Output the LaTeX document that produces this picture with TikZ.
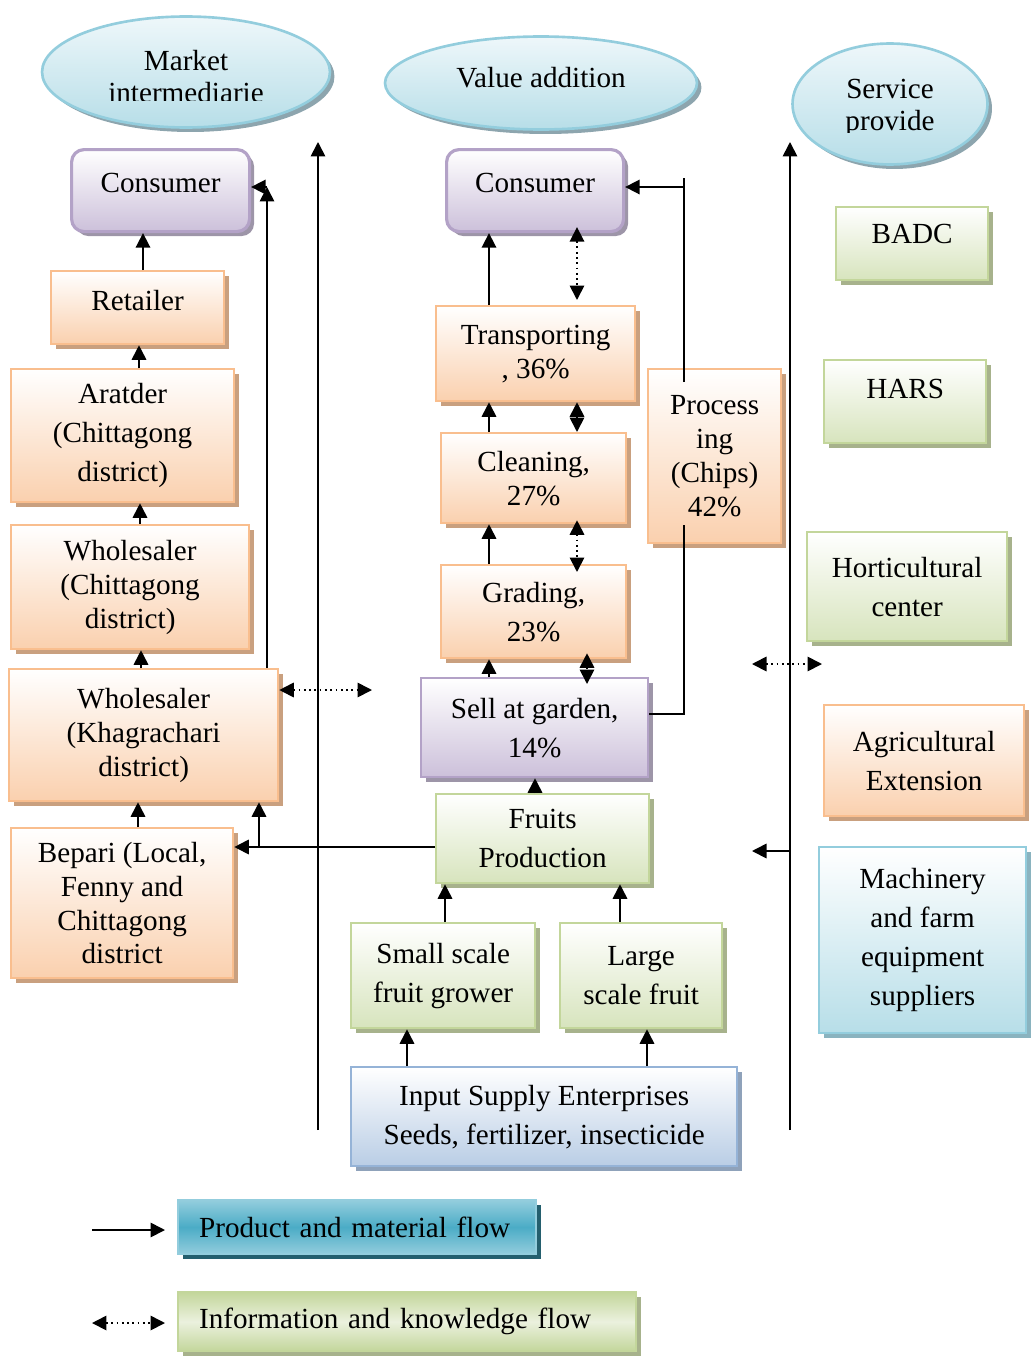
\documentclass[tikz,border=0pt]{standalone}
\usepackage{fontspec}
\setmainfont{Liberation Serif}
\usetikzlibrary{arrows.meta,shapes.geometric,shadows}

% palette
\definecolor{orBorder}{HTML}{F9BE8E}
\definecolor{orFill}{HTML}{FAD0AE}
\definecolor{orShadow}{HTML}{C9A07F}
\definecolor{grBorder}{HTML}{C3D69B}
\definecolor{grFill}{HTML}{D7E4BD}
\definecolor{grShadow}{HTML}{A7B28C}
\definecolor{puBorder}{HTML}{B3A2C7}
\definecolor{puFill}{HTML}{CCC0DA}
\definecolor{puShadow}{HTML}{9D95A8}
\definecolor{blBorder}{HTML}{95B3D7}
\definecolor{blFill}{HTML}{B9CDE5}
\definecolor{blShadow}{HTML}{8FA2BA}
\definecolor{cyBorder}{HTML}{93CDDD}
\definecolor{cyFill}{HTML}{B7DEE8}
\definecolor{cyShadow}{HTML}{8AB3BF}
\definecolor{elTop}{HTML}{EEF7FA}
\definecolor{elShadow}{HTML}{8DA5AE}
\definecolor{tealMid}{HTML}{4BACC6}
\definecolor{tealEdge}{HTML}{93CDDD}
\definecolor{tealShadow}{HTML}{245F6E}
\definecolor{lgGreenMid}{HTML}{EBF1DE}

\tikzset{
  lbl/.style={font=\fontsize{16.6}{19.3}\selectfont, align=center},
  wide/.style={font=\fontsize{16.6}{22.2}\selectfont},
  shadowed/.style={general shadow={fill=#1, shadow xshift=0.09cm, shadow yshift=-0.09cm}},
  boxbase/.style={lbl, inner sep=0pt, line width=1.3pt},
  obox/.style={boxbase, draw=orBorder, top color=white, bottom color=orFill, shadowed=orShadow},
  gbox/.style={boxbase, draw=grBorder, top color=white, bottom color=grFill, shadowed=grShadow},
  pbox/.style={boxbase, draw=puBorder, top color=white, bottom color=puFill, shadowed=puShadow},
  bbox/.style={boxbase, draw=blBorder, top color=white, bottom color=blFill, shadowed=blShadow},
  cbox/.style={boxbase, draw=cyBorder, top color=white, bottom color=cyFill, shadowed=cyShadow},
  roundbox/.style={rounded corners=0.25cm, line width=1.8pt},
  oval/.style={ellipse, inner sep=0pt, line width=1.5pt, draw=cyBorder, top color=elTop, bottom color=cyFill, shadowed=elShadow},
  legteal/.style={lbl, align=left, inner ysep=0pt, inner xsep=0.42cm, line width=1.3pt, draw=tealEdge,
    top color=tealEdge, bottom color=tealEdge, middle color=tealMid, shadowed=tealShadow},
  leggreen/.style={lbl, align=left, inner ysep=0pt, inner xsep=0.42cm, line width=1.3pt, draw=grBorder,
    top color=grBorder, bottom color=grBorder, middle color=lgGreenMid, shadowed=grShadow},
  conn/.style={line width=1pt},
  arr/.style={line width=1pt, -{Triangle[length=0.29cm,width=0.29cm]}},
  darr/.style={line width=1pt, dotted, {Triangle[length=0.29cm,width=0.29cm]}-{Triangle[length=0.29cm,width=0.29cm]}},
}

% box node spanning the corners (x1,y1)-(x2,y2) of the grid: style, x1, y1, x2, y2, name
\newcommand{\boxnode}[6]{%
  \node[#1, anchor=north west,
        minimum width={(#4-#2)*0.02cm}, minimum height={(#5-#3)*0.02cm}] (#6) at (#2,#3)}

\begin{document}
\begin{tikzpicture}[x=0.02cm, y=-0.02cm]
\useasboundingbox (0,0) rectangle (1033,1359);

% ---------- headers ----------
\node[oval, minimum width=5.76cm, minimum height=2.22cm] (mkt) at (186,72) {};
\node[oval, minimum width=6.24cm, minimum height=1.86cm] (val) at (541,83) {};
\node[oval, minimum width=3.9cm, minimum height=2.42cm] (svc) at (890,104) {};
\node[lbl, anchor=base] (valtxt) at (541,87) {Value addition};
\begin{scope}
  \clip (40,10) rectangle (335,100);
  \node[lbl, anchor=base] (mkt1) at (186,70) {Market};
  \node[lbl, anchor=base] (mkt2) at (186,102) {intermediarie};
\end{scope}
\begin{scope}
  \clip (790,40) rectangle (995,132);
  \node[lbl, anchor=base] (svc1) at (890,98) {Service};
  \node[lbl, anchor=base] (svc2) at (890,130) {provide};
\end{scope}

% ---------- market chain (left) ----------
\boxnode{pbox, roundbox, text depth=0.32cm}{70}{148}{248}{230}{conL} {Consumer};
\boxnode{obox, text depth=0.3cm}{50}{270}{223}{343}{retail} {Retailer};
\boxnode{obox, wide}{10}{368}{233}{501}{arat} {Aratder\\(Chittagong\\district)};
\boxnode{obox}{10}{524}{248}{648}{whc} {Wholesaler\\(Chittagong\\district)};
\boxnode{obox}{8}{668}{277}{800}{whk} {Wholesaler\\(Khagrachari\\district)};
\boxnode{obox}{10}{827}{232}{977}{bep} {Bepari (Local,\\Fenny and\\Chittagong\\district};

% ---------- value addition (middle) ----------
\boxnode{pbox, roundbox, text depth=0.32cm}{445}{148}{622}{230}{conM} {Consumer};
\boxnode{obox}{435}{305}{634}{400}{trans} {Transporting\\, 36\%};
\boxnode{obox}{440}{432}{625}{522}{clean} {Cleaning,\\27\%};
\boxnode{obox, wide}{440}{564}{625}{657}{grade} {Grading,\\23\%};
\boxnode{pbox, wide}{420}{677}{647}{776}{sell} {Sell at garden,\\14\%};
\boxnode{gbox, wide}{435}{793}{648}{882}{fruit} {Fruits\\Production};
\boxnode{gbox, wide}{350}{922}{534}{1027}{small} {Small scale\\fruit grower};
\boxnode{gbox, wide}{559}{922}{721}{1027}{large} {Large\\scale fruit};
\boxnode{bbox, wide}{350}{1066}{736}{1165}{input} {Input Supply Enterprises\\Seeds, fertilizer, insecticide};
\boxnode{obox}{647}{368}{780}{542}{proc} {Process\\ing\\(Chips)\\42\%};

% ---------- service providers (right) ----------
\boxnode{gbox, text depth=0.38cm}{835}{206}{987}{279}{badc} {BADC};
\boxnode{gbox, text depth=0.5cm}{823}{359}{985}{442}{hars} {HARS};
\boxnode{gbox, wide}{806}{531}{1006}{640}{hort} {Horticultural\\center};
\boxnode{obox, wide}{823}{704}{1023}{815}{agri} {Agricultural\\Extension};
\boxnode{cbox, wide}{818}{846}{1025}{1032}{mach} {Machinery\\and farm\\equipment\\suppliers};

% ---------- legend ----------
\node[legteal, anchor=north west, minimum height=1.08cm, text width=6.32cm] (legp) at (177,1199) {Product and material flow};
\node[leggreen, anchor=north west, minimum height=1.18cm, text width=8.32cm] (legi) at (177,1291) {Information and knowledge flow};

% ---------- helper coordinates ----------
\coordinate (xa) at (143,0);
\coordinate (xb) at (139,0);
\coordinate (xc) at (140,0);
\coordinate (xd) at (141,0);
\coordinate (xe) at (138,0);
\coordinate (m1) at (489,0);
\coordinate (m2) at (577,0);
\coordinate (m3) at (587,0);
\coordinate (m4) at (535,0);
\coordinate (n1) at (445,0);
\coordinate (n2) at (620,0);
\coordinate (n3) at (407,0);
\coordinate (n4) at (647,0);
\coordinate (kj) at (267,187);
\coordinate (fj) at (259,847);
\coordinate (ml0) at (318,1130);
\coordinate (ml1) at (318,142);
\coordinate (sl0) at (790,1130);
\coordinate (sl1) at (790,142);
\coordinate (d1) at (372,690);
\coordinate (rd1) at (752,664);
\coordinate (rd2) at (822,664);
\coordinate (ra1) at (790,851);
\coordinate (ra2) at (752,851);
\coordinate (pj1) at (684,714);
\coordinate (pj2) at (684,525);
\coordinate (pj3) at (684,382);
\coordinate (pj4) at (684,178);
\coordinate (pj5) at (684,187);
\coordinate (la1) at (92,1230);
\coordinate (la2) at (165,1230);
\coordinate (lb1) at (92,1323);
\coordinate (lb2) at (165,1323);

% ---------- left chain flows ----------
\draw[arr] (retail.north -| xa) -- (conL.south -| xa);
\draw[arr] (arat.north -| xb) -- (retail.south -| xb);
\draw[arr] (whc.north -| xc) -- (arat.south -| xc);
\draw[arr] (whk.north -| xd) -- (whc.south -| xd);
\draw[arr] (bep.north -| xe) -- (whk.south -| xe);
\draw[arr] (fruit.west |- fj) -- (bep.east |- fj);
\draw[arr] (fj) -- (whk.south -| fj);
\draw[arr] (whk.north -| kj) -- (kj);
\draw[arr] (kj) -- (conL.east |- kj);
\draw[darr] (whk.east |- d1) -- (d1);
\draw[arr] (ml0) -- (ml1);

% ---------- middle chain flows ----------
\draw[arr] (trans.north -| m1) -- (conM.south -| m1);
\draw[darr] ([yshift=0.12cm]conM.south -| m2) -- ([yshift=0.1cm]trans.north -| m2);
\draw[arr] (clean.north -| m1) -- (trans.south -| m1);
\draw[darr] (trans.south -| m2) -- (clean.north -| m2);
\draw[arr] (grade.north -| m1) -- (clean.south -| m1);
\draw[darr] ([yshift=0.08cm]clean.south -| m2) -- ([yshift=-0.16cm]grade.north -| m2);
\draw[arr] (sell.north -| m1) -- (grade.south -| m1);
\draw[darr] ([yshift=0.12cm]grade.south -| m3) -- ([yshift=-0.14cm]sell.north -| m3);
\draw[arr] (fruit.north -| m4) -- (sell.south -| m4);
\draw[arr] (small.north -| n1) -- (fruit.south -| n1);
\draw[arr] (large.north -| n2) -- (fruit.south -| n2);
\draw[arr] (input.north -| n3) -- (small.south -| n3);
\draw[arr] (input.north -| n4) -- (large.south -| n4);
\draw[conn] (sell.east |- pj1) -- (pj1) -- (pj2);
\draw[conn] (pj3) -- (pj4);
\draw[arr] (pj5) -- (conM.east |- pj5);

% ---------- service side flows ----------
\draw[arr] (sl0) -- (sl1);
\draw[darr] (rd1) -- (rd2);
\draw[arr] (ra1) -- (ra2);

% ---------- legend keys ----------
\draw[arr] (la1) -- (la2);
\draw[darr] (lb1) -- (lb2);
\end{tikzpicture}
\end{document}
